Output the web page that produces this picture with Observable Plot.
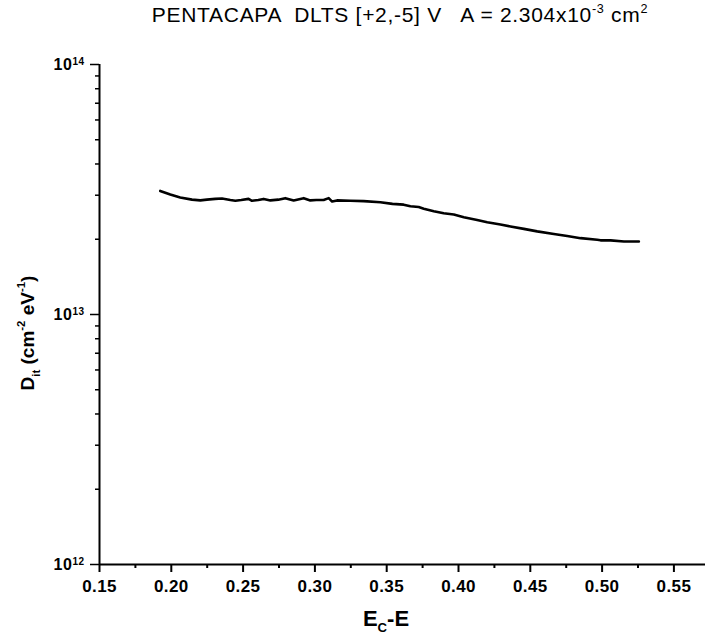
<!DOCTYPE html>
<html><head><meta charset="utf-8">
<script src="https://cdn.jsdelivr.net/npm/d3@7"></script>
<script src="https://cdn.jsdelivr.net/npm/@observablehq/plot@0.6"></script>
<style>
body{margin:0;background:#fff;}
#chart svg{display:block;}
</style></head><body><div id="chart"></div>
<script>
const energy = [0.1923,0.1993,0.2062,0.2144,0.2202,0.2248,0.2306,0.2353,0.2411,0.2446,0.2487,0.2538,0.2562,0.2606,0.2643,0.2690,0.2745,0.2794,0.2852,0.2922,0.2968,0.3010,0.3061,0.3096,0.3120,0.3154,0.3247,0.3340,0.3456,0.3540,0.3618,0.3665,0.3723,0.3758,0.3828,0.3897,0.3967,0.4037,0.4130,0.4200,0.4292,0.4362,0.4455,0.4548,0.4664,0.4757,0.4850,0.4966,0.4989,0.5059,0.5152,0.5256];
const dit = [3.12e13,3.02e13,2.94e13,2.88e13,2.86e13,2.88e13,2.90e13,2.91e13,2.87e13,2.85e13,2.87e13,2.90e13,2.85e13,2.87e13,2.90e13,2.86e13,2.88e13,2.92e13,2.86e13,2.92e13,2.86e13,2.87e13,2.87e13,2.92e13,2.83e13,2.86e13,2.85e13,2.84e13,2.81e13,2.77e13,2.75e13,2.71e13,2.69e13,2.65e13,2.59e13,2.54e13,2.51e13,2.45e13,2.39e13,2.34e13,2.29e13,2.25e13,2.20e13,2.15e13,2.10e13,2.06e13,2.02e13,1.99e13,1.98e13,1.98e13,1.96e13,1.96e13];
const xMajorTicks = [0.15,0.20,0.25,0.30,0.35,0.40,0.45,0.50,0.55];
const xMinorTicks = [0.175,0.225,0.275,0.325,0.375,0.425,0.475,0.525];
const yMajorTicks = [1e12,1e13,1e14];
const yMinorTicks = [2e12,3e12,4e12,5e12,6e12,7e12,8e12,9e12,2e13,3e13,4e13,5e13,6e13,7e13,8e13,9e13];
const titleParts = [["PENTACAPA  DLTS [+2,-5] V   A = 2.304x10",""],["-3","sup"],[" cm",""],["2","sup"]];
const xLabelParts = [["E",""],["C","sub"],["-E",""]];
const yLabelParts = [["D",""],["it","sub"],[" (cm",""],["-2","sup"],[" eV",""],["-1","sup"],[")",""]];

const FONT = "'Liberation Sans', Arial, Helvetica, sans-serif";
const data = energy.map((e, i) => ({e, d: dit[i]}));

const plot = Plot.plot({
  width: 705, height: 637,
  marginLeft: 99, marginRight: 0, marginTop: 64, marginBottom: 73,
  style: {fontFamily: FONT, background: "white", color: "black"},
  x: {domain: [0.15, 0.572]},
  y: {type: "log", domain: [1e12, 1e14]},
  marks: [
    Plot.axisX({ticks: xMinorTicks, tickSize: 4, strokeWidth: 2, tickFormat: () => "", label: null}),
    Plot.axisX({ticks: xMajorTicks, tickSize: 8, strokeWidth: 2, tickPadding: 7, tickFormat: d3.format(".2f"), label: null}),
    Plot.axisY({ticks: yMinorTicks, tickSize: 4, strokeWidth: 1.5, tickFormat: () => "", label: null}),
    Plot.axisY({ticks: yMajorTicks, tickSize: 9, strokeWidth: 1.5, tickPadding: 6, tickFormat: d => String(Math.round(Math.log10(d))), label: null}),
    Plot.ruleX([0.15], {strokeWidth: 2}),
    Plot.ruleY([1e12], {strokeWidth: 2}),
    Plot.line(data, {x: "e", y: "d", stroke: "black", strokeWidth: 2.6})
  ]
});

const svg = d3.select(plot);
svg.selectAll("text").each(function() {
  const s = this.textContent;
  const t = d3.select(this);
  if (/^1[234]$/.test(s)) {
    t.text("");
    t.style("font-size", "16px").style("font-weight", "bold").attr("letter-spacing", "0.5px");
    t.append("tspan").text("10");
    t.append("tspan").attr("dy", "-0.5em").style("font-size", "10px").text(s);
  } else if (/^0\.\d\d$/.test(s)) {
    t.style("font-size", "17px").style("font-weight", "bold").attr("letter-spacing", "0.4px");
  }
});

function richText(parts, x, y, size, weight, rotate, spacing, subShift) {
  const t = svg.append("text")
    .attr("text-anchor", "middle")
    .attr("font-family", FONT)
    .style("font-size", size + "px")
    .style("font-weight", weight)
    .attr("letter-spacing", spacing)
    .attr("fill", "black")
    .style("white-space", "pre")
    .attr("transform", `translate(${x},${y})` + (rotate ? " rotate(-90)" : ""));
  let shift = 0;
  for (const [s, kind] of parts) {
    let target = 0, fs = null;
    if (kind === "sup") { target = -0.45 * size; fs = size * 0.6; }
    if (kind === "sub") { target = subShift * size; fs = size * 0.6; }
    const sp = t.append("tspan").text(s).attr("dy", target - shift);
    if (fs) sp.style("font-size", fs + "px");
    shift = target;
  }
  return t;
}

richText(titleParts, 400, 22, 21, "normal", false, "0.7px", 0.3);
richText(xLabelParts, 386, 626, 22, "bold", false, "0px", 0.25);
richText(yLabelParts, 34, 333, 19, "bold", true, "0px", 0.3);

document.getElementById("chart").appendChild(plot);
</script>
</body></html>
